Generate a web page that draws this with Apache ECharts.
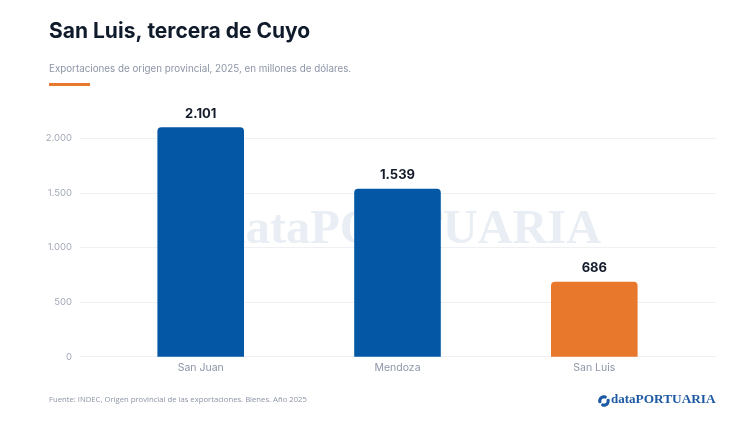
<!DOCTYPE html>
<html><head><meta charset="utf-8">
<script src="https://cdn.jsdelivr.net/npm/echarts@6/dist/echarts.min.js"></script>
<style>html,body{margin:0;padding:0;background:#fff}#c{width:750px;height:422px}</style>
</head><body><div id="c"></div>
<script>
const categories = ['San Juan', 'Mendoza', 'San Luis'];
const values = [2101, 1539, 686];
const barColors = ['#0357a5', '#0357a5', '#e8792c'];
const yTickStep = 500;
const yMax = 2400;

function fmt(v) { return String(v).replace(/\B(?=(\d{3})+(?!\d))/g, '.'); }

function logoIcon(cx, cy, r, w, color, z) {
  return [
    { type: 'arc', z: z, shape: { cx: cx, cy: cy, r: r, startAngle: Math.PI * 0.95, endAngle: Math.PI * 1.6 }, style: { stroke: color, fill: null, lineWidth: w, lineCap: 'round' } },
    { type: 'arc', z: z, shape: { cx: cx, cy: cy, r: r, startAngle: -Math.PI * 0.05, endAngle: Math.PI * 0.6 }, style: { stroke: color, fill: null, lineWidth: w, lineCap: 'round' } }
  ];
}

const chart = echarts.init(document.getElementById('c'), null, { renderer: 'canvas' });
chart.setOption({
  animation: false,
  backgroundColor: '#ffffff',
  grid: [
    { left: 80, right: 34, top: 94.6, bottom: 65.3 },
    { left: 102.3, right: 57.3, top: 94.6, bottom: 65.3 }
  ],
  xAxis: [
    { type: 'value', gridIndex: 0, show: false, min: 0, max: 1 },
    {
      type: 'category', gridIndex: 1, data: categories,
      axisLine: { show: false }, axisTick: { show: false },
      axisLabel: { color: '#8d95a7', fontSize: 10.5, fontFamily: 'Inter', margin: 6 }
    }
  ],
  yAxis: [
    {
      type: 'value', gridIndex: 0, min: 0, max: yMax, interval: yTickStep,
      axisLine: { show: false }, axisTick: { show: false },
      axisLabel: { color: '#a3a9b7', fontSize: 9.5, fontFamily: 'Inter', margin: 8, showMaxLabel: false, formatter: fmt },
      splitLine: { show: true, showMaxLine: false, lineStyle: { color: '#eef0f4', width: 1 } }
    },
    { type: 'value', gridIndex: 1, min: 0, max: yMax, show: false, splitLine: { show: false } }
  ],
  graphic: [
    { type: 'text', x: 49, y: 21, z: 10, style: { text: 'San Luis, tercera de Cuyo', fill: '#0f1a2b', font: '700 21px Inter' } },
    { type: 'text', x: 49, y: 64, z: 10, style: { text: 'Exportaciones de origen provincial, 2025, en millones de dólares.', fill: '#8c94a6', font: '400 9.8px Inter' } },
    { type: 'rect', x: 49, y: 83, z: 10, shape: { width: 41, height: 3 }, style: { fill: '#e8792c' } },
    ...logoIcon(184, 227, 18, 13, '#e9eef5', -10),
    { type: 'text', x: 219, y: 206.5, z: -10, style: { text: 'dataPORTUARIA', fill: '#e9eef5', font: '700 48.3px "Liberation Serif"' } },
    { type: 'text', x: 49, y: 396, z: 10, style: { text: 'Fuente: INDEC, Origen provincial de las exportaciones. Bienes. Año 2025', fill: '#8c94a6', font: '400 7.7px "Open Sans"' } },
    ...logoIcon(604, 401, 4.2, 3.2, '#1d5aa3', 10),
    { type: 'text', x: 611, y: 393, z: 10, style: {
      rich: {
        a: { fill: '#1d5aa3', font: '700 13px "Liberation Serif"' },
        b: { fill: '#1d5aa3', font: '700 13.3px "Liberation Serif"' }
      },
      text: '{a|data}{b|PORTUARIA}'
    } }
  ],
  series: [{
    type: 'bar', xAxisIndex: 1, yAxisIndex: 1,
    barWidth: '44%',
    data: values.map((v, i) => ({ value: v, itemStyle: { color: barColors[i] } })),
    itemStyle: { borderRadius: [4, 4, 0, 0] },
    label: { show: true, position: 'top', distance: 7, color: '#141c2c', fontWeight: 'bold', fontSize: 13, fontFamily: 'Inter', formatter: p => fmt(p.value) },
    z: 5
  }]
});
</script></body></html>
